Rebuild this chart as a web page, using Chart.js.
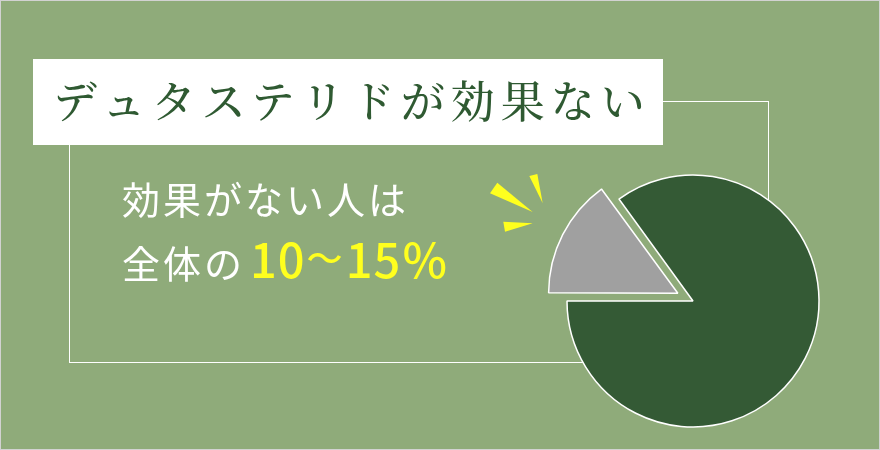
<!DOCTYPE html>
<html><head><meta charset="utf-8">
<script src="https://cdn.jsdelivr.net/npm/chart.js@4"></script>
<style>
html,body{margin:0;padding:0;background:#8fab7a;}
#wrap{position:relative;width:880px;height:450px;overflow:hidden;}
#c{position:absolute;left:0;top:0;}
.t{position:absolute;white-space:nowrap;line-height:1;font-family:"Noto Sans CJK JP","Noto Sans CJK SC",sans-serif;}
#title{left:53px;top:77px;font-size:44px;letter-spacing:6px;color:#2f5a32;font-weight:500;font-family:"Noto Serif CJK JP","Noto Sans CJK JP",serif;}
#l1{left:122px;top:179px;font-size:38px;letter-spacing:3px;color:#fff;font-weight:400;}
#l2{left:122px;top:234px;font-size:38px;letter-spacing:3px;color:#fff;font-weight:400;}
#l2 .y{font-size:47px;color:#ffff1e;letter-spacing:1px;font-weight:500;margin-left:5px;}
#l2 .w{font-size:36px;display:inline-block;position:relative;top:-6px;letter-spacing:0;margin:0 3px 0 1px;}
#frame{position:absolute;left:0;top:0;width:878px;height:448px;border:1px solid #d2d2d2;pointer-events:none;}
</style></head>
<body><div id="wrap">
<canvas id="c" width="880" height="450"></canvas>
<div class="t" id="title">デュタステリドが効果ない</div>
<div class="t" id="l1">効果がない人は</div>
<div class="t" id="l2">全体の<span class="y">10<span class="w">～</span>15％</span></div>
<div id="frame"></div>
</div>
<script>
const categories = ['効果がない人', '効果がある人'];
const shareValues = [15, 85];
const sliceColors = ['#a0a0a0', '#345a35'];

const decor = {
  id: 'decor',
  beforeDraw(chart) {
    const ctx = chart.ctx;
    ctx.save();
    ctx.fillStyle = '#8fab7a';
    ctx.fillRect(0, 0, 880, 450);
    ctx.strokeStyle = '#ffffff';
    ctx.lineWidth = 1;
    ctx.strokeRect(69.5, 101.5, 699, 261);
    ctx.fillStyle = '#ffffff';
    ctx.fillRect(33, 59, 630, 86);
    ctx.fillStyle = '#ffff1e';
    const tris = [
      [[529.3,176],[537.3,174],[542.7,203.3]],
      [[490,193.3],[497.3,182.7],[532.7,212]],
      [[503.3,221.7],[505,231.7],[532.7,223.3]]
    ];
    tris.forEach(t => {
      ctx.beginPath();
      ctx.moveTo(t[0][0], t[0][1]);
      ctx.lineTo(t[1][0], t[1][1]);
      ctx.lineTo(t[2][0], t[2][1]);
      ctx.closePath();
      ctx.fill();
    });
    ctx.restore();
  }
};

new Chart(document.getElementById('c'), {
  type: 'pie',
  data: {
    labels: categories,
    datasets: [{
      data: shareValues,
      backgroundColor: sliceColors,
      borderColor: '#ffffff',
      borderWidth: 1.5,
      offset: [68, 0]
    }]
  },
  options: {
    responsive: false,
    animation: false,
    rotation: 270,
    radius: 126,
    layout: { padding: { left: 563, right: 57, top: 171, bottom: 19 } },
    plugins: { legend: { display: false }, tooltip: { enabled: false } }
  },
  plugins: [decor]
});
</script>
</body></html>
